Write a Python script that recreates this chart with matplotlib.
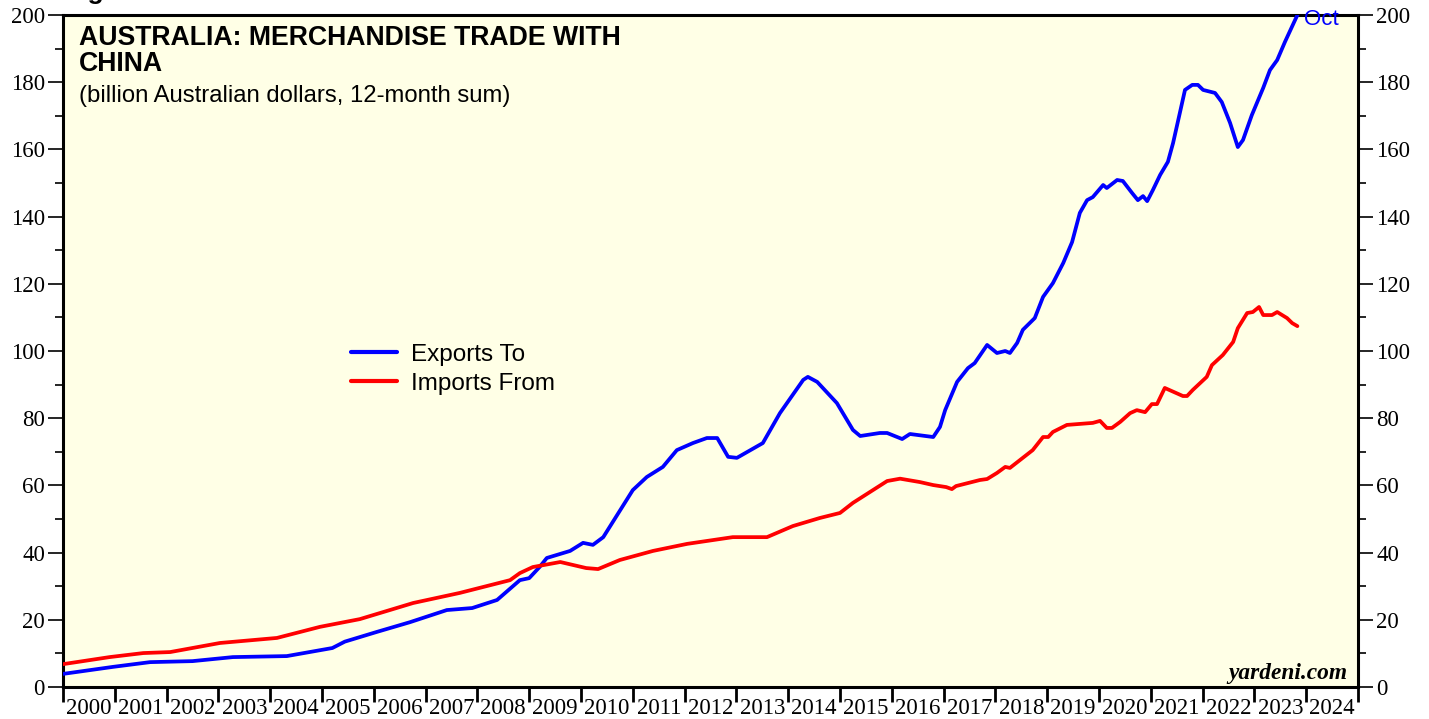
import matplotlib
matplotlib.use("Agg")
import matplotlib.pyplot as plt
from matplotlib.ticker import MultipleLocator, FixedLocator, NullFormatter

# ---- data (decimal year, billion AUD, 12-month sum) ----
exp_t = [2000.0, 2000.97, 2001.68, 2002.5, 2003.28, 2004.32, 2005.2, 2005.44, 2006.06, 2006.7,
         2007.41, 2007.9, 2008.38, 2008.82, 2009.0, 2009.2, 2009.34, 2009.79, 2010.04, 2010.23,
         2010.43, 2011.0, 2011.27, 2011.58, 2011.85, 2012.16, 2012.43, 2012.63, 2012.84, 2013.01,
         2013.51, 2013.84, 2014.29, 2014.38, 2014.56, 2014.94, 2015.25, 2015.39, 2015.77, 2015.91,
         2016.2, 2016.35, 2016.8, 2016.93, 2017.03, 2017.26, 2017.47, 2017.6, 2017.84, 2018.03,
         2018.19, 2018.28, 2018.42, 2018.53, 2018.76, 2018.92, 2019.11, 2019.31, 2019.48, 2019.63,
         2019.77, 2019.88, 2020.08, 2020.15, 2020.35, 2020.46, 2020.64, 2020.75, 2020.85, 2020.93,
         2021.04, 2021.18, 2021.33, 2021.43, 2021.56, 2021.66, 2021.8, 2021.91, 2022.01, 2022.24,
         2022.37, 2022.53, 2022.68, 2022.78, 2022.95, 2023.17, 2023.3, 2023.44, 2023.59, 2023.83]
exp_v = [3.9, 6.0, 7.4, 7.7, 8.9, 9.2, 11.6, 13.5, 16.4, 19.3,
         22.9, 23.5, 25.9, 31.8, 32.4, 35.7, 38.4, 40.5, 42.9, 42.3,
         44.6, 58.6, 62.5, 65.5, 70.5, 72.6, 74.1, 74.1, 68.5, 68.2,
         72.6, 81.5, 91.4, 92.3, 90.8, 84.5, 76.5, 74.7, 75.6, 75.6,
         73.8, 75.3, 74.4, 77.4, 82.4, 90.8, 94.9, 96.4, 101.8, 99.4,
         100.0, 99.4, 102.4, 106.3, 109.8, 116.1, 120.2, 126.2, 132.4, 141.1,
         144.9, 145.8, 149.4, 148.5, 150.9, 150.6, 147.0, 144.9, 146.1, 144.6,
         147.9, 152.4, 156.3, 161.9, 170.8, 177.7, 179.2, 179.2, 177.7, 176.8,
         174.1, 167.9, 160.7, 162.8, 170.2, 178.3, 183.6, 186.6, 192.0, 200.0]

imp_t = [2000.0, 2000.9, 2001.55, 2002.07, 2003.03, 2004.13, 2004.96, 2005.73, 2006.76, 2007.66,
         2008.63, 2008.82, 2009.07, 2009.6, 2010.1, 2010.33, 2010.75, 2011.39, 2012.05, 2012.93,
         2013.59, 2014.09, 2014.61, 2015.0, 2015.25, 2015.91, 2016.16, 2016.54, 2016.8, 2017.05,
         2017.16, 2017.24, 2017.7, 2017.84, 2018.03, 2018.19, 2018.28, 2018.72, 2018.92, 2019.02,
         2019.11, 2019.38, 2019.63, 2019.88, 2020.02, 2020.15, 2020.25, 2020.41, 2020.6, 2020.73,
         2020.89, 2021.02, 2021.12, 2021.27, 2021.62, 2021.7, 2021.81, 2022.08, 2022.18, 2022.39,
         2022.59, 2022.68, 2022.86, 2022.97, 2023.09, 2023.17, 2023.34, 2023.44, 2023.63, 2023.73,
         2023.83]
imp_v = [6.8, 8.9, 10.1, 10.4, 13.1, 14.6, 17.9, 20.2, 25.0, 28.0,
         31.8, 33.9, 35.7, 37.2, 35.4, 35.1, 37.8, 40.5, 42.6, 44.6,
         44.6, 47.9, 50.3, 51.8, 54.8, 61.3, 62.0, 61.0, 60.1, 59.5,
         58.9, 59.8, 61.6, 61.9, 63.7, 65.5, 65.2, 70.5, 74.4, 74.4,
         75.9, 78.0, 78.3, 78.6, 79.2, 77.1, 77.1, 78.9, 81.5, 82.4,
         81.8, 84.2, 84.2, 89.0, 86.6, 86.6, 88.4, 92.3, 95.8, 98.8,
         102.7, 106.8, 111.3, 111.6, 113.1, 110.7, 110.7, 111.6, 109.8, 108.3,
         107.4]

years = list(range(2000, 2025))
year_labels = [str(y) for y in years]
series_names = ["Exports To", "Imports From"]
last_label = "Oct"

# ---- figure ----
W, H = 1429, 719
fig = plt.figure(figsize=(W / 100, H / 100), dpi=100)
L, R, T, B = 63, 1358, 15, 687
ax = fig.add_axes([L / W, 1 - B / H, (R - L) / W, (B - T) / H])
ax.set_facecolor("#FFFFE6")

ax.plot(exp_t, exp_v, color="#0000FF", lw=2.7, solid_joinstyle="round", solid_capstyle="round",
        label=series_names[0], zorder=3)
ax.plot(imp_t, imp_v, color="#FF0000", lw=2.7, solid_joinstyle="round", solid_capstyle="round",
        label=series_names[1], zorder=3)

ax.set_xlim(2000, 2025)
ax.set_ylim(0, 200)

for s in ax.spines.values():
    s.set_linewidth(2.2)
    s.set_color("black")

TICKFS = 16.5
# y axis
ax.yaxis.set_major_locator(MultipleLocator(20))
ax.yaxis.set_minor_locator(MultipleLocator(10))
ax.tick_params(axis="y", which="major", direction="out", length=11, width=1.2,
               left=True, right=True, labelleft=True, labelright=True, pad=2,
               labelsize=TICKFS)
ax.tick_params(axis="y", which="minor", direction="out", length=5.5, width=1.2,
               left=True, right=True)
for lab in ax.get_yticklabels():
    lab.set_fontfamily("Liberation Serif")

# x axis: year boundary ticks, labels at mid-year
ax.xaxis.set_major_locator(FixedLocator(years + [2025]))
ax.xaxis.set_major_formatter(NullFormatter())
ax.xaxis.set_minor_locator(FixedLocator([y + 0.5 for y in years]))
ax.set_xticklabels(year_labels, minor=True, fontfamily="Liberation Serif")
ax.tick_params(axis="x", which="major", direction="out", length=11, width=2.0)
ax.tick_params(axis="x", which="minor", length=0, pad=8, labelsize=TICKFS)

# title
ax.text(0.0124, 0.985, "AUSTRALIA: MERCHANDISE TRADE WITH\nCHINA", transform=ax.transAxes,
        ha="left", va="top", fontsize=19.2, fontweight="bold", family="Liberation Sans",
        linespacing=0.98)
ax.text(0.0124, 0.896, "(billion Australian dollars, 12-month sum)", transform=ax.transAxes,
        ha="left", va="top", fontsize=17.2, family="Liberation Sans")

# legend
leg = ax.legend(loc="upper left", bbox_to_anchor=(0.2075, 0.540), frameon=False,
                prop={"family": "Liberation Sans", "size": 17.5}, handlelength=1.9,
                handletextpad=0.55, labelspacing=0.3, borderpad=0.3)
for h in leg.legend_handles:
    h.set_linewidth(3)

# end label
ax.text(exp_t[-1] + 0.12, exp_v[-1] - 1.3, last_label, color="#0000FF", fontsize=16,
        family="Liberation Sans", ha="left", va="center", clip_on=False)

ax.text(0.992, 0.005, "yardeni.com", transform=ax.transAxes, ha="right", va="bottom",
        fontsize=16.8, fontweight="bold", fontstyle="italic", family="Liberation Serif")

# cut-off figure header at top
fig.text(64 / W, 1.0 + 1 / H, "Figure", ha="left", va="baseline", fontsize=19,
         fontweight="bold", family="Liberation Sans")

fig.savefig("out.png", dpi=100, facecolor="white")
